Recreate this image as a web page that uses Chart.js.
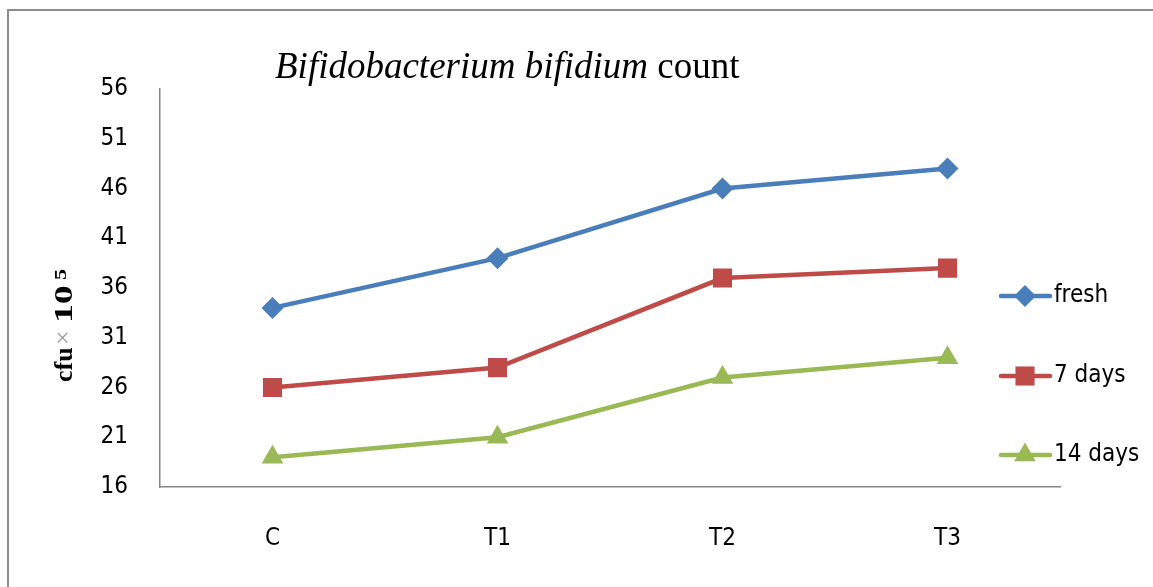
<!DOCTYPE html>
<html>
<head>
<meta charset="utf-8">
<script src="https://cdn.jsdelivr.net/npm/chart.js@4/dist/chart.umd.min.js"></script>
<style>
  html, body { margin: 0; padding: 0; background: #fff; }
  #wrap { width: 1153px; height: 587px; }
</style>
</head>
<body>
<div id="wrap"><canvas id="chart" width="1153" height="587"></canvas></div>
<script>
// data
const categories = ['C', 'T1', 'T2', 'T3'];
const freshCounts = [34, 39, 46, 48];
const day7Counts = [26, 28, 37, 38];
const day14Counts = [19, 21, 27, 29];
const yTicks = [16, 21, 26, 31, 36, 41, 46, 51, 56];

const NARROW = '"Liberation Sans Narrow", "DejaVu Sans Condensed", "Arial Narrow", sans-serif';
const SERIF = '"Liberation Serif", "DejaVu Serif", serif';

// border, title, y-axis title and legend are drawn by hand
const decorPlugin = {
  id: 'decor',
  beforeDraw(chart) {
    const ctx = chart.ctx;
    ctx.save();
    ctx.strokeStyle = '#8c8c8c';
    ctx.lineWidth = 2;
    ctx.strokeRect(8, 10, 1200, 700);
    ctx.restore();
  },
  afterDraw(chart) {
    const ctx = chart.ctx;
    ctx.save();

    // title: italic species name + upright "count"
    ctx.fillStyle = '#000';
    ctx.textBaseline = 'alphabetic';
    ctx.textAlign = 'left';
    ctx.font = 'italic 37px ' + SERIF;
    const part1 = 'Bifidobacterium bifidium ';
    ctx.fillText(part1, 275, 78);
    const w1 = ctx.measureText(part1).width;
    ctx.font = '37px ' + SERIF;
    ctx.fillText('count', 275 + w1, 78);

    // y-axis title: cfu × 10^5, rotated; baseline runs bottom -> top
    ctx.translate(72, 0);
    ctx.rotate(-Math.PI / 2);
    ctx.textBaseline = 'alphabetic';
    ctx.fillStyle = '#000';
    ctx.font = 'bold 26px ' + SERIF;
    ctx.fillText('cfu', -382, 0);
    ctx.fillStyle = '#999';
    ctx.font = '26px ' + SERIF;
    ctx.fillText('\u00d7', -345, -1);
    ctx.fillStyle = '#000';
    ctx.font = 'bold 26px ' + SERIF;
    ctx.save();
    ctx.translate(-323, 0);
    ctx.scale(1.45, 1);
    ctx.fillText('10', 0, 0);
    ctx.restore();
    ctx.save();
    ctx.translate(-280, -6);
    ctx.scale(1.3, 1);
    ctx.font = 'bold 17px ' + SERIF;
    ctx.fillText('5', 0, 0);
    ctx.restore();
    ctx.setTransform(1, 0, 0, 1, 0, 0);

    // legend
    const legendY = [296, 376, 455];
    chart.data.datasets.forEach((ds, i) => {
      const y = legendY[i];
      ctx.strokeStyle = ds.borderColor;
      ctx.lineWidth = 4.5;
      ctx.lineCap = 'round';
      ctx.beginPath();
      ctx.moveTo(1001, y);
      ctx.lineTo(1050, y);
      ctx.stroke();
      ctx.fillStyle = ds.backgroundColor;
      Chart.helpers.drawPoint(ctx, {
        pointStyle: ds.pointStyle, radius: ds.pointRadius, rotation: 0, borderWidth: 0
      }, 1025, y);
      ctx.fillStyle = '#000';
      ctx.font = '24px ' + NARROW;
      ctx.textAlign = 'left';
      ctx.textBaseline = 'middle';
      ctx.fillText(ds.label, 1054, y);
    });
    ctx.restore();
  }
};

new Chart(document.getElementById('chart'), {
  type: 'line',
  data: {
    labels: categories,
    datasets: [
      {
        label: 'fresh',
        data: freshCounts,
        borderColor: '#4a7ebb',
        backgroundColor: '#4a7ebb',
        borderWidth: 4.5,
        pointStyle: 'rectRot',
        pointRadius: 11,
        pointBorderWidth: 0
      },
      {
        label: '7 days',
        data: day7Counts,
        borderColor: '#be4b48',
        backgroundColor: '#be4b48',
        borderWidth: 4.5,
        pointStyle: 'rect',
        pointRadius: 13.5,
        pointBorderWidth: 0
      },
      {
        label: '14 days',
        data: day14Counts,
        borderColor: '#98b954',
        backgroundColor: '#98b954',
        borderWidth: 4.5,
        pointStyle: 'triangle',
        pointRadius: 12.5,
        pointBorderWidth: 0
      }
    ]
  },
  options: {
    responsive: false,
    animation: false,
    layout: { padding: { top: 89, right: 93, left: 0, bottom: 0 } },
    plugins: {
      legend: { display: false },
      title: { display: false },
      tooltip: { enabled: false }
    },
    scales: {
      x: {
        offset: true,
        grid: { display: false },
        border: { display: true, color: '#868686', width: 1.5 },
        ticks: { color: '#000', font: { family: NARROW, size: 24 }, padding: 29 },
        afterFit: (scale) => { scale.height = 100; }
      },
      y: {
        min: 16,
        max: 56,
        afterBuildTicks: (scale) => { scale.ticks = yTicks.map(v => ({ value: v })); },
        grid: { display: false },
        border: { display: true, color: '#868686', width: 1.5 },
        ticks: { color: '#000', font: { family: NARROW, size: 24 }, padding: 24 },
        afterFit: (scale) => { scale.width = 160; }
      }
    }
  },
  plugins: [decorPlugin]
});
</script>
</body>
</html>
